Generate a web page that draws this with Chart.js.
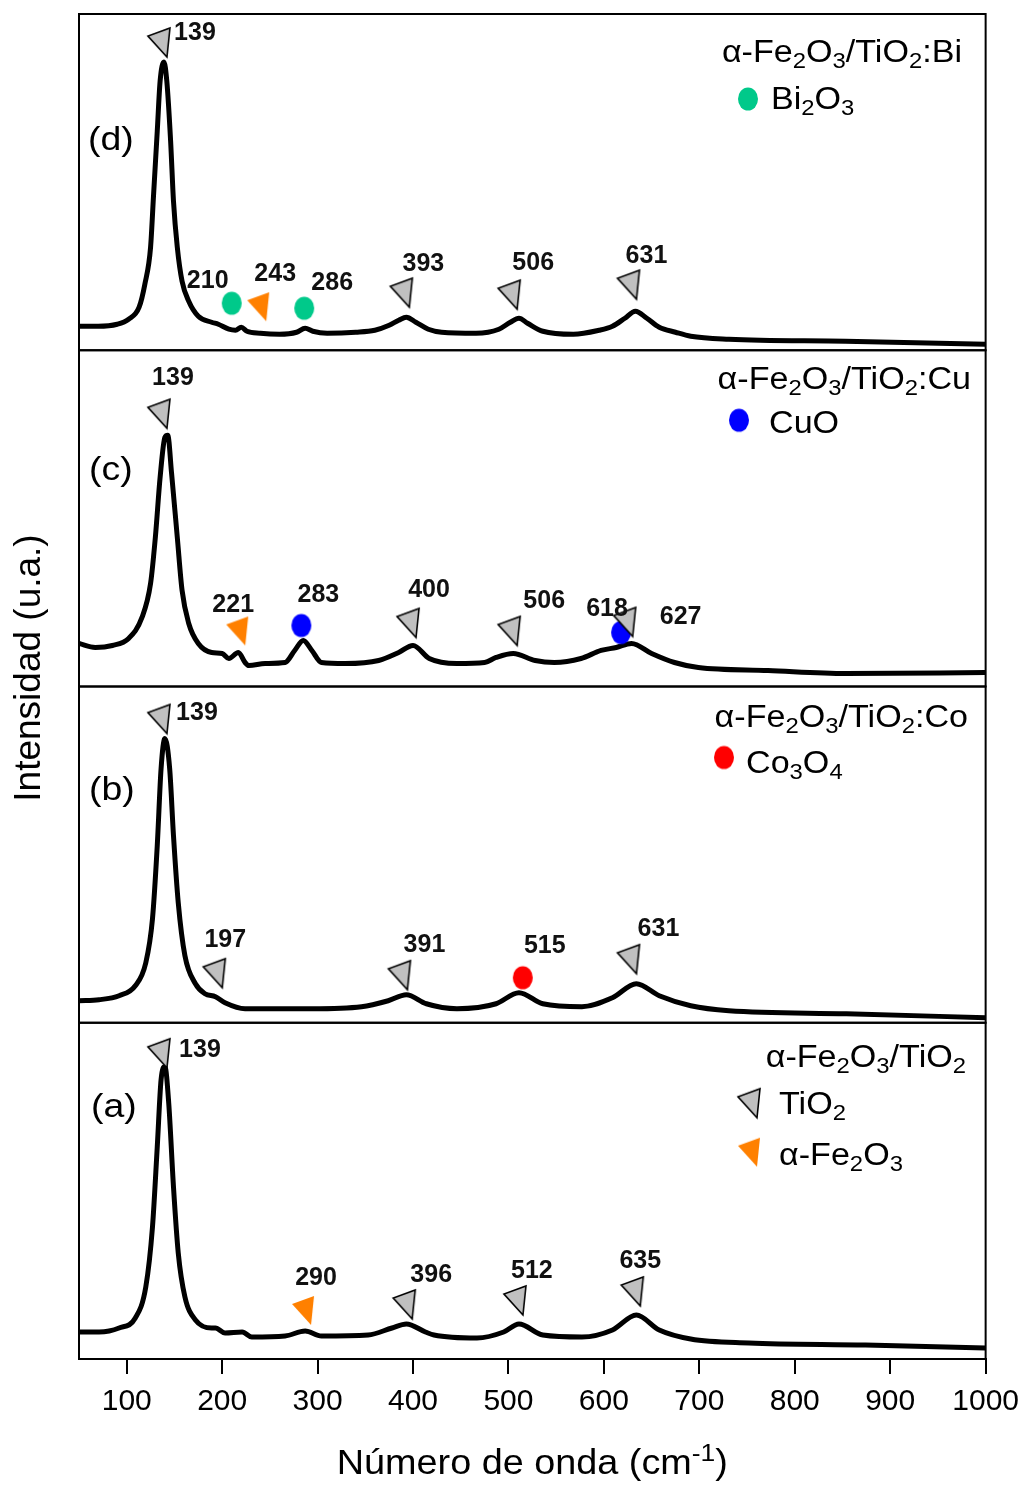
<!DOCTYPE html>
<html>
<head>
<meta charset="utf-8">
<title>Raman α-Fe2O3/TiO2</title>
<script src="https://cdn.jsdelivr.net/npm/chart.js@4.4.1/dist/chart.umd.min.js"></script>
<style>
  html, body { margin: 0; padding: 0; background: #fff; }
  #wrap { width: 1029px; height: 1485px; position: relative; }
</style>
</head>
<body>
<div id="wrap"><canvas id="ramanChart" width="1029" height="1485"></canvas></div>
<script>
// Raman shift axis (cm-1)
const xMin = 50;
const xMax = 1000;
const xTicks = [100, 200, 300, 400, 500, 600, 700, 800, 900, 1000];

// Spectra as [shift, intensity] pairs, arbitrary units (panel height = 336)
const specBi = [
  [50, 24], [70, 24], [90, 26], [102, 31], [113, 43], [119, 66], [125, 103], [128, 153],
  [132, 219], [135, 269], [139, 288], [142, 269], [146, 209], [149, 149], [153, 103],
  [158, 69], [165, 49], [175, 34], [189, 28], [196, 26], [207, 21], [214, 20], [220, 23],
  [226, 19], [240, 17], [260, 16], [278, 18], [287, 22], [295, 19], [310, 17], [340, 18],
  [360, 20], [375, 25], [385, 30], [393, 33], [403, 28], [416, 21], [430, 18], [466, 17],
  [490, 21], [502, 28], [511, 32], [520, 27], [536, 19], [568, 16], [595, 20], [609, 24],
  [622, 32], [633, 39], [645, 32], [658, 23], [675, 18], [691, 14], [731, 11], [853, 9], [1000, 6]
];
const specCu = [
  [50, 43], [67, 39], [85, 41], [102, 48], [116, 69], [125, 103], [130, 149], [135, 209],
  [140, 249], [143, 251], [147, 213], [153, 149], [158, 96], [165, 63], [175, 43], [189, 34],
  [200, 33], [207, 28], [217, 34], [224, 24], [228, 21], [245, 23], [266, 24], [276, 36],
  [285, 46], [294, 36], [304, 24], [329, 23], [364, 26], [385, 34], [400, 41], [417, 28],
  [446, 23], [475, 24], [487, 29], [505, 33], [528, 26], [548, 24], [576, 28], [597, 36],
  [613, 39], [629, 43], [650, 33], [674, 24], [699, 19], [772, 16], [854, 13], [1000, 14]
];
const specCo = [
  [50, 22], [71, 23], [92, 27], [109, 37], [120, 60], [127, 104], [132, 177], [136, 254],
  [140, 284], [145, 254], [149, 187], [154, 120], [161, 67], [172, 39], [182, 29], [193, 26],
  [203, 20], [224, 14], [294, 14], [346, 16], [374, 22], [393, 28], [414, 19], [446, 14],
  [487, 19], [511, 30], [536, 19], [577, 16], [609, 25], [634, 39], [658, 27], [691, 17],
  [731, 12], [854, 9], [1000, 5]
];
const specBare = [
  [50, 27], [71, 27], [92, 31], [109, 41], [120, 72], [127, 132], [132, 212], [136, 279],
  [140, 292], [144, 256], [149, 172], [154, 106], [161, 62], [172, 39], [189, 31], [193, 31],
  [203, 26], [221, 27], [231, 22], [266, 23], [287, 28], [304, 23], [353, 24], [378, 31],
  [393, 35], [413, 27], [422, 24], [467, 21], [495, 27], [511, 35], [536, 24], [577, 22],
  [609, 29], [634, 44], [658, 29], [691, 20], [752, 16], [874, 14], [1000, 11]
];

// Assigned bands: [shift, intensity at marker]
const tio2Bi = [[139, 293], [393, 43], [506, 41], [631, 51]];
const fe2o3Bi = [[243, 29]];
const bi2o3Bi = [[210, 47], [286, 42]];

const tio2Cu = [[139, 258], [400, 49], [506, 41], [627, 50]];
const fe2o3Cu = [[221, 41]];
const cuoCu = [[283, 61], [618, 54]];

const tio2Co = [[139, 289], [197, 35], [391, 33], [631, 49]];
const co3o4Co = [[515, 45]];

const tio2Bare = [[139, 291], [396, 40], [512, 44], [635, 53]];
const fe2o3Bare = [[290, 34]];

// label offsets from the marker (px)
const labelOffBi = { 139: [31, -24], 243: [12, -47], 393: [17, -43], 506: [19, -46], 631: [13, -43], 210: [-24, -22], 286: [28, -25] };
const labelOffCu = { 139: [9, -50], 221: [-9, -40], 283: [17, -30], 400: [16, -47], 506: [30, -44], 618: [-14, -23], 627: [51, -19] };
const labelOffCo = { 139: [33, -20], 197: [6, -48], 391: [20, -45], 515: [22, -32], 631: [25, -45] };
const labelOffBare = { 139: [36, -18], 290: [8, -47], 396: [22, -44], 512: [12, -44], 635: [3, -45] };

const FONT = '"Liberation Sans", Arial, Helvetica, sans-serif';
const GREEN = '#00c98a';
const BLUE = '#0000ff';
const RED = '#ff0000';
const ORANGE = '#ff8000';
const GRAY = '#c0c0c0';
const STRETCH = 1.1;   // text in the figure is set slightly wide

// marker glyphs: the point sits 3px left of the triangle tip
function triangleGlyph(fill, stroke) {
  const c = document.createElement('canvas');
  c.width = 80; c.height = 80;
  const g = c.getContext('2d');
  g.beginPath();
  g.moveTo(43, 40);
  g.lineTo(24, 19);
  g.lineTo(46, 11);
  g.closePath();
  g.fillStyle = fill;
  g.fill();
  if (stroke) {
    g.lineWidth = 1.6;
    g.strokeStyle = stroke;
    g.stroke();
  }
  return c;
}
function dotGlyph(fill) {
  const c = document.createElement('canvas');
  c.width = 30; c.height = 30;
  const g = c.getContext('2d');
  g.beginPath();
  g.ellipse(15, 15, 10, 11.5, 0, 0, Math.PI * 2);
  g.fillStyle = fill;
  g.fill();
  return c;
}
const triGray = triangleGlyph(GRAY, '#000');
const triOrange = triangleGlyph(ORANGE, null);
const dotGreen = dotGlyph(GREEN);
const dotBlue = dotGlyph(BLUE);
const dotRed = dotGlyph(RED);

const panels = [
  { id: 'yBare', tag: '(a)', spec: specBare, offs: labelOffBare,
    marks: [[tio2Bare, triGray], [fe2o3Bare, triOrange]],
    title: [['α-Fe', ''], ['2', 'sub'], ['O', ''], ['3', 'sub'], ['/TiO', ''], ['2', 'sub']],
    titleRight: 966, titleBase: 44,
    items: [
      { glyph: triGray, gx: 754, gy: 95, tx: 779, ty: 91, text: [['TiO', ''], ['2', 'sub']] },
      { glyph: triOrange, gx: 754, gy: 144, tx: 779, ty: 142, text: [['α-Fe', ''], ['2', 'sub'], ['O', ''], ['3', 'sub']] }
    ], tagX: 91, tagBase: 94 },
  { id: 'yCo', tag: '(b)', spec: specCo, offs: labelOffCo,
    marks: [[tio2Co, triGray], [co3o4Co, dotRed]],
    title: [['α-Fe', ''], ['2', 'sub'], ['O', ''], ['3', 'sub'], ['/TiO', ''], ['2', 'sub'], [':Co', '']],
    titleRight: 968, titleBase: 40,
    items: [
      { glyph: dotRed, gx: 724, gy: 71, tx: 746, ty: 86, text: [['Co', ''], ['3', 'sub'], ['O', ''], ['4', 'sub']] }
    ], tagX: 89, tagBase: 113 },
  { id: 'yCu', tag: '(c)', spec: specCu, offs: labelOffCu,
    marks: [[tio2Cu, triGray], [fe2o3Cu, triOrange], [cuoCu, dotBlue]],
    title: [['α-Fe', ''], ['2', 'sub'], ['O', ''], ['3', 'sub'], ['/TiO', ''], ['2', 'sub'], [':Cu', '']],
    titleRight: 971, titleBase: 39,
    items: [
      { glyph: dotBlue, gx: 739, gy: 70, tx: 769, ty: 83, text: [['CuO', '']] }
    ], tagX: 89, tagBase: 130 },
  { id: 'yBi', tag: '(d)', spec: specBi, offs: labelOffBi,
    marks: [[tio2Bi, triGray], [fe2o3Bi, triOrange], [bi2o3Bi, dotGreen]],
    title: [['α-Fe', ''], ['2', 'sub'], ['O', ''], ['3', 'sub'], ['/TiO', ''], ['2', 'sub'], [':Bi', '']],
    titleRight: 962, titleBase: 48,
    items: [
      { glyph: dotGreen, gx: 748, gy: 85, tx: 771, ty: 95, text: [['Bi', ''], ['2', 'sub'], ['O', ''], ['3', 'sub']] }
    ], tagX: 88, tagBase: 136 }
];

const toXY = arr => arr.map(([x, y]) => ({ x, y }));

const datasets = [];
const scales = {
  x: {
    type: 'linear', position: 'bottom', min: xMin, max: xMax,
    afterBuildTicks: s => { s.ticks = xTicks.map(v => ({ value: v })); },
    grid: { display: true, drawOnChartArea: false, drawTicks: true, tickLength: 15, color: '#000', lineWidth: 2 },
    border: { display: true, color: '#000', width: 2 },
    ticks: {
      color: '#000', font: { family: FONT, size: 30 }, padding: 10, maxRotation: 0, autoSkip: false,
      callback: v => String(v)
    }
  }
};

panels.forEach(p => {
  scales[p.id] = {
    type: 'linear', position: 'left', stack: 'raman', stackWeight: 1,
    min: 0, max: 336,
    ticks: { display: false },
    grid: { display: false, drawTicks: false },
    border: { display: false }
  };
  datasets.push({
    data: toXY(p.spec), yAxisID: p.id, showLine: true,
    borderColor: '#000', borderWidth: 5, pointRadius: 0,
    cubicInterpolationMode: 'monotone', fill: false, order: 2
  });
  p.marks.forEach(([pts, glyph]) => {
    datasets.push({
      data: toXY(pts), yAxisID: p.id, showLine: false,
      pointStyle: glyph, pointRadius: 5, clip: false, order: 1,
      panel: p
    });
  });
});

// text with sub/superscripts, y is the baseline
function richText(ctx, parts, x, y, size, align, sx = STRETCH) {
  const font = s => `${s}px ${FONT}`;
  let w = 0;
  parts.forEach(([t, m]) => { ctx.font = font(m ? size * 0.7 : size); w += ctx.measureText(t).width; });
  const x0 = align === 'right' ? x - w * sx : align === 'center' ? x - w * sx / 2 : x;
  ctx.save();
  ctx.translate(x0, y);
  ctx.scale(sx, 1);
  ctx.textAlign = 'left';
  ctx.textBaseline = 'alphabetic';
  let cx = 0;
  parts.forEach(([t, m]) => {
    const s = m ? size * 0.7 : size;
    ctx.font = font(s);
    const dy = m === 'sub' ? size * 0.2 : m === 'sup' ? -size * 0.38 : 0;
    ctx.fillText(t, cx, dy);
    cx += ctx.measureText(t).width;
  });
  ctx.restore();
}

const decor = {
  id: 'decor',
  afterDraw(chart) {
    const ctx = chart.ctx;
    const area = chart.chartArea;
    ctx.save();
    ctx.fillStyle = '#000';

    panels.forEach(p => {
      const ys = chart.scales[p.id];
      // frame
      ctx.lineWidth = 2;
      ctx.strokeStyle = '#000';
      ctx.strokeRect(area.left, ys.top, area.right - area.left, ys.bottom - ys.top);

      // panel tag
      richText(ctx, [[p.tag, '']], p.tagX, ys.top + p.tagBase, 34, 'left');

      // legend block
      richText(ctx, p.title, p.titleRight, ys.top + p.titleBase, 31, 'right');
      p.items.forEach(it => {
        const g = it.glyph;
        ctx.drawImage(g, it.gx - g.width / 2, ys.top + it.gy - g.height / 2);
        richText(ctx, it.text, it.tx, ys.top + it.ty, 31, 'left');
      });
    });

    // band labels
    ctx.font = `bold 25px ${FONT}`;
    ctx.textAlign = 'center';
    ctx.textBaseline = 'middle';
    chart.data.datasets.forEach((ds, i) => {
      if (!ds.panel) return;
      const meta = chart.getDatasetMeta(i);
      meta.data.forEach((el, j) => {
        const v = ds.data[j].x;
        const off = ds.panel.offs[v] || [0, -30];
        const px = chart.scales.x.getPixelForValue(v);
        ctx.fillStyle = '#111';
        ctx.fillText(String(v), px + off[0], el.y + off[1]);
      });
    });

    // axis titles
    ctx.fillStyle = '#000';
    const cm = [['Número de onda (cm', ''], ['-1', 'sup'], [')', '']];
    richText(ctx, cm, (area.left + area.right) / 2, 1474, 35, 'center', 1.08);

    ctx.save();
    ctx.translate(30, 668);
    ctx.rotate(-Math.PI / 2);
    ctx.font = `37px ${FONT}`;
    ctx.textAlign = 'center';
    ctx.textBaseline = 'middle';
    ctx.fillText('Intensidad (u.a.)', 0, 0);
    ctx.restore();

    ctx.restore();
  }
};

new Chart(document.getElementById('ramanChart'), {
  type: 'scatter',
  data: { datasets },
  options: {
    responsive: false,
    animation: false,
    events: [],
    layout: { padding: { left: 79, right: 41, top: 14, bottom: 55 } },
    plugins: { legend: { display: false }, tooltip: { enabled: false } },
    scales
  },
  plugins: [decor]
});
</script>
</body>
</html>
